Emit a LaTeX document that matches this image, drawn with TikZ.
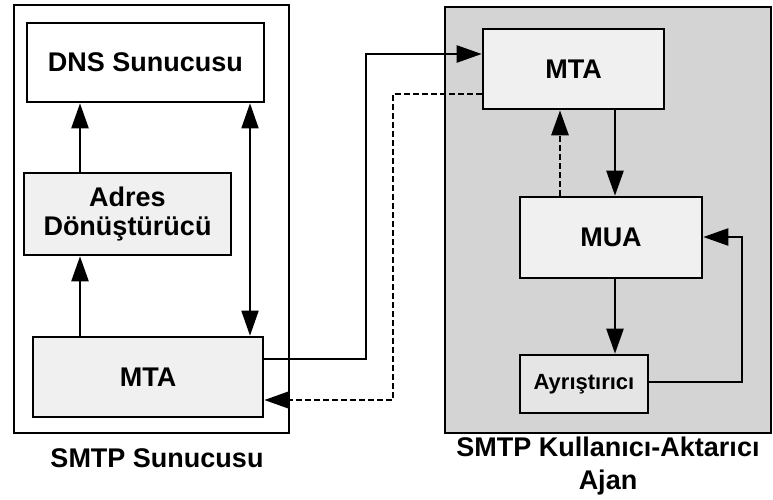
\documentclass[tikz,border=0pt]{standalone}
\usepackage{fontspec}
\setmainfont{Liberation Sans}
\usetikzlibrary{arrows.meta}
\begin{document}
\begin{tikzpicture}[x=1pt,y=-1pt,
  every node/.style={font=\bfseries\fontsize{27}{31}\selectfont},
  frame/.style={draw,line width=2.6pt},
  unit/.style={draw,line width=2.6pt,fill=#1,inner sep=0pt},
  unit/.default=white,
  tip/.style={Triangle[length=25pt,width=17pt]},
  link/.style={line width=2.4pt,-{Triangle[length=25pt,width=17pt]}},
  twoway/.style={line width=1.8pt,{Triangle[length=25pt,width=17pt]}-{Triangle[length=25pt,width=17pt]}},
  back/.style={line width=2.8pt,dash pattern=on 6pt off 3pt,-{Triangle[length=25pt,width=17pt]}},
  caption/.style={align=center}]
\useasboundingbox (0,0) rectangle (773,499);
% outer frames
\draw[frame] (14,5) rectangle (289,433);
\draw[frame,fill=black!17] (445,7) rectangle (771,433);
% server side
\node[unit] (dns) at (145.5,62.5) [minimum width=237pt,minimum height=79pt] {DNS Sunucusu};
\node[unit=black!6,align=center] (adr) at (127.5,214) [minimum width=207pt,minimum height=82pt] {Adres\\[-2pt]Dönüştürücü};
\node[unit=black!6] (mtaL) at (148,377) [minimum width=230pt,minimum height=80pt] {MTA};
% user/transfer agent side
\node[unit=black!6] (mtaR) at (573.5,69) [minimum width=181pt,minimum height=80pt] {MTA};
\node[unit=black!6] (mua) at (611,237.5) [minimum width=182pt,minimum height=81pt] {MUA};
\node[unit=black!10,font=\bfseries\fontsize{22}{26}\selectfont] (ayr) at (584,384) [minimum width=128pt,minimum height=58pt] {Ayrıştırıcı};
% internal connectors, server
\draw[link] (adr.north -| 80,0) -- (dns.south -| 80,0);
\draw[link] (mtaL.north -| 80,0) -- (adr.south -| 80,0);
\draw[twoway] (dns.south -| 250,0) -- (mtaL.north -| 250,0);
% connectors between the two sides
\coordinate (go1) at (366,359);
\coordinate (go2) at (366,54);
\draw[link] (mtaL.east |- go1) -- (go1) -- (go2) -- (mtaR.west |- go2);
\coordinate (bk1) at (393,94);
\coordinate (bk2) at (393,400);
\draw[back] (mtaR.west |- bk1) -- (bk1) -- (bk2) -- (mtaL.east |- bk2);
% internal connectors, agent
\draw[link] (mtaR.south -| 615,0) -- (mua.north -| 615,0);
\draw[back] (mua.north -| 560,0) -- (mtaR.south -| 560,0);
\draw[link] (mua.south -| 615,0) -- (ayr.north -| 615,0);
\coordinate (lp1) at (742,382);
\coordinate (lp2) at (742,237);
\draw[link] (ayr.east |- lp1) -- (lp1) -- (lp2) -- (mua.east |- lp2);
% captions
\node[caption] (capL) at (157,458) {SMTP Sunucusu};
\node[caption,align=center] (capR) at (608,466) {SMTP Kullanıcı-Aktarıcı\\[2pt]Ajan};
\end{tikzpicture}
\end{document}
